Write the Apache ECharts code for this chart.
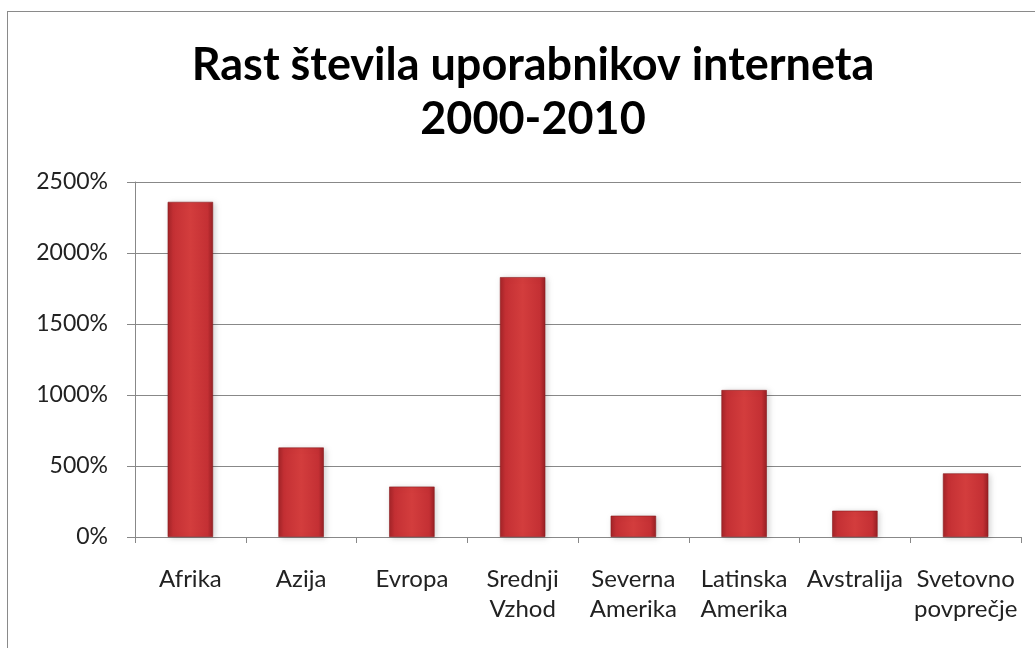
<!DOCTYPE html>
<html><head><meta charset="utf-8">
<script src="https://cdn.jsdelivr.net/npm/echarts@6/dist/echarts.min.js"></script>
<style>
html,body{margin:0;padding:0;background:#fff;}
#frame{position:absolute;left:7px;top:11px;width:1040px;height:650px;border:1.5px solid #8a8a8a;box-sizing:border-box;}
#c{position:absolute;left:0;top:0;width:1035px;height:648px;}
</style></head>
<body>
<div id="frame"></div>
<div id="c"></div>
<script>
var categories = ['Afrika','Azija','Evropa','Srednji\nVzhod','Severna\nAmerika','Latinska\nAmerika','Avstralija','Svetovno\npovprečje'];
var growth = [2360, 630, 355, 1830, 150, 1035, 185, 448];
var yTicks = [0, 500, 1000, 1500, 2000, 2500];
var titleText = 'Rast števila uporabnikov interneta\n2000-2010';

var chart = echarts.init(document.getElementById('c'), null, {renderer:'canvas'});
var barColor = new echarts.graphic.LinearGradient(0,0,1,0,[
  {offset:0,color:'#a42428'},
  {offset:0.12,color:'#c43034'},
  {offset:0.5,color:'#d33d3d'},
  {offset:0.88,color:'#c43034'},
  {offset:1,color:'#982024'}
]);
chart.setOption({
  backgroundColor:'transparent',
  animation:false,
  title:{text:titleText,left:528,textAlign:'center',top:33,
    textStyle:{fontFamily:'Lato',fontWeight:'bold',fontSize:45,color:'#000',lineHeight:54}},
  grid:{left:135,right:14,top:182,bottom:111,containLabel:false},
  xAxis:{type:'category',data:categories,
    axisLine:{show:true,lineStyle:{color:'#888',width:1}},
    axisTick:{show:true,length:6,lineStyle:{color:'#888'}},
    axisLabel:{fontFamily:'Lato',fontSize:24,color:'#222',lineHeight:30,margin:27,interval:0}},
  yAxis:{type:'value',min:0,max:2500,interval:500,
    axisLine:{show:true,lineStyle:{color:'#888',width:1}},
    axisTick:{show:true,length:8,lineStyle:{color:'#888'}},
    splitLine:{show:true,lineStyle:{color:'#888',width:1}},
    axisLabel:{fontFamily:'Lato',fontSize:23,color:'#222',margin:27,
      formatter:function(v){return yTicks.indexOf(v)>=0 ? v+'%' : '';}}},
  series:[{type:'bar',data:growth,barWidth:'41%',
    itemStyle:{color:barColor,borderColor:'#8a1c20',borderWidth:0.6,shadowColor:'rgba(0,0,0,0.18)',shadowBlur:6,shadowOffsetX:2,shadowOffsetY:1}}]
});
</script>
</body></html>
